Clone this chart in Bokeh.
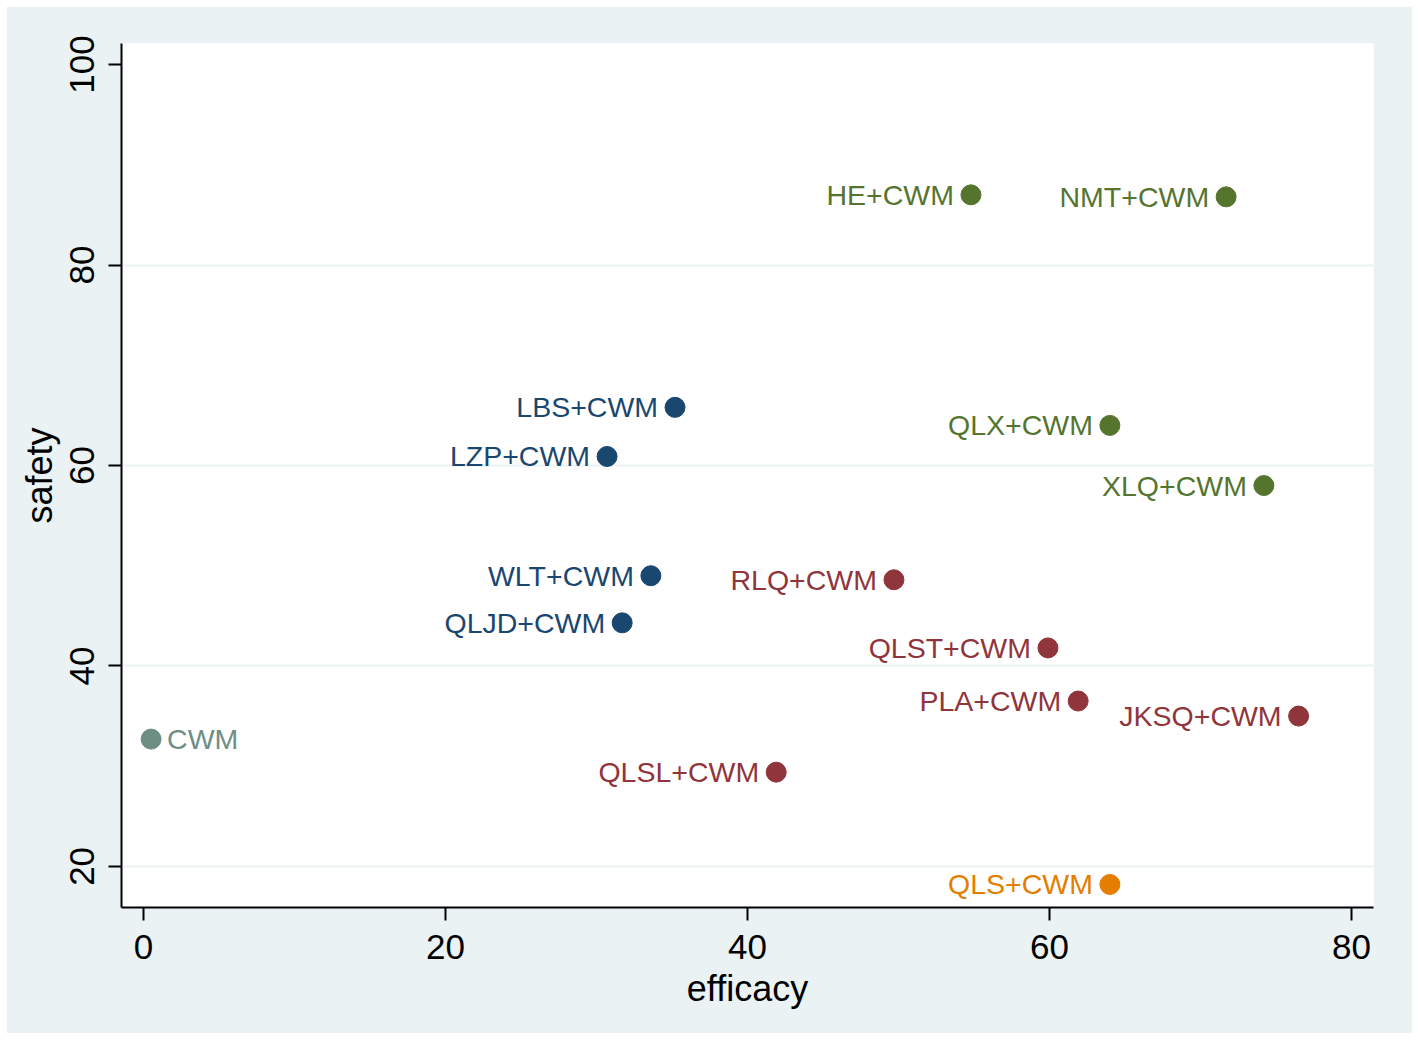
import math
from bokeh.plotting import figure
from bokeh.models import Range1d, FixedTicker, ColumnDataSource
from bokeh.core.properties import value
from bokeh.embed import file_html
from bokeh.resources import INLINE

# ---- data ----
names = ["CWM", "HE+CWM", "NMT+CWM", "LBS+CWM", "LZP+CWM", "QLX+CWM", "XLQ+CWM",
         "WLT+CWM", "RLQ+CWM", "QLJD+CWM", "QLST+CWM", "PLA+CWM", "JKSQ+CWM",
         "QLSL+CWM", "QLS+CWM"]
efficacy = [0.5, 54.8, 71.7, 35.2, 30.7, 64.0, 74.2, 33.6, 49.7, 31.7, 59.9, 61.9, 76.5, 41.9, 64.0]
safety = [32.7, 87.0, 86.8, 65.8, 60.9, 64.0, 58.0, 49.0, 48.6, 44.3, 41.8, 36.5, 35.0, 29.4, 18.2]
group = ["ref", "green", "green", "navy", "navy", "green", "green",
         "navy", "maroon", "navy", "maroon", "maroon", "maroon", "maroon", "orange"]

x_ticks = [0, 20, 40, 60, 80]
y_ticks = [20, 40, 60, 80, 100]

palette = {"ref": "#6E8E84", "green": "#55752F", "navy": "#1A476F",
           "maroon": "#90353B", "orange": "#E37E00"}
colors = [palette[g] for g in group]

FONT = "Liberation Sans"
BG = "#EAF2F3"

p = figure(width=1406, height=1027, output_backend="svg", toolbar_location=None,
           x_range=Range1d(-1.46, 81.46), y_range=Range1d(15.9, 102.1),
           background_fill_color="white", border_fill_color=BG,
           min_border_left=115, min_border_right=39, min_border_top=37, min_border_bottom=126)
p.margin = (6, 6, 6, 6)
p.outline_line_color = None

# grid
p.xgrid.grid_line_color = None
p.ygrid.ticker = FixedTicker(ticks=[20, 40, 60, 80])
p.ygrid.grid_line_color = BG
p.ygrid.grid_line_width = 2

# axes
p.xaxis.ticker = FixedTicker(ticks=x_ticks)
p.yaxis.ticker = FixedTicker(ticks=y_ticks)
for ax in (p.xaxis[0], p.yaxis[0]):
    ax.axis_line_color = "black"
    ax.axis_line_width = 2
    ax.major_tick_line_color = "black"
    ax.major_tick_line_width = 2
    ax.major_tick_out = 13
    ax.major_tick_in = 0
    ax.minor_tick_line_color = None
    ax.major_label_text_font = FONT
    ax.major_label_text_font_size = "35px"
    ax.major_label_text_color = "black"
    ax.axis_label_text_font = FONT
    ax.axis_label_text_font_size = "36px"
    ax.axis_label_text_font_style = "normal"
    ax.axis_label_text_color = "black"
p.xaxis.axis_label = "efficacy"
p.yaxis.axis_label = "safety"
p.yaxis.major_label_orientation = "parallel"
p.xaxis.major_label_standoff = 14
p.yaxis.major_label_standoff = 14
p.xaxis.axis_label_standoff = 6
p.yaxis.axis_label_standoff = 8

src = ColumnDataSource(dict(x=efficacy, y=safety, name=names, color=colors))
p.scatter("x", "y", source=src, size=20, fill_color="color", line_color="color", line_width=1)

left_idx = [i for i, n in enumerate(names) if n != "CWM"]
right_idx = [i for i, n in enumerate(names) if n == "CWM"]

src_l = ColumnDataSource(dict(x=[efficacy[i] for i in left_idx], y=[safety[i] for i in left_idx],
                              name=[names[i] for i in left_idx], color=[colors[i] for i in left_idx]))
src_r = ColumnDataSource(dict(x=[efficacy[i] for i in right_idx], y=[safety[i] for i in right_idx],
                              name=[names[i] for i in right_idx], color=[colors[i] for i in right_idx]))

p.text("x", "y", text="name", source=src_l, text_color="color", text_align="right",
       text_baseline="middle", x_offset=-17, text_font=value(FONT), text_font_size="28.5px")
p.text("x", "y", text="name", source=src_r, text_color="color", text_align="left",
       text_baseline="middle", x_offset=16, text_font=value(FONT), text_font_size="28.5px")

open("out.html", "w").write(file_html(p, INLINE))
